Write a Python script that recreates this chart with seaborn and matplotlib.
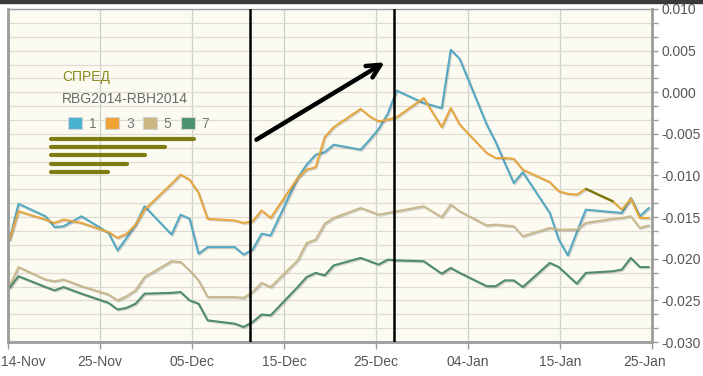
import numpy as np
import pandas as pd
import matplotlib
matplotlib.use("Agg")
import matplotlib.pyplot as plt
import matplotlib.dates as mdates
import matplotlib.patheffects as pe
from matplotlib.patches import Patch, Rectangle
from matplotlib.lines import Line2D
from matplotlib.ticker import MultipleLocator, FormatStrFormatter
from matplotlib.transforms import ScaledTranslation
import seaborn as sns

# trading days
dates = [
    "2013-11-14", "2013-11-15", "2013-11-18", "2013-11-19", "2013-11-20", "2013-11-22",
    "2013-11-25", "2013-11-26", "2013-11-27", "2013-11-28", "2013-11-29",
    "2013-12-02", "2013-12-03", "2013-12-04", "2013-12-05", "2013-12-06",
    "2013-12-09", "2013-12-10", "2013-12-11", "2013-12-12", "2013-12-13",
    "2013-12-16", "2013-12-17", "2013-12-18", "2013-12-19", "2013-12-20",
    "2013-12-23", "2013-12-24", "2013-12-25", "2013-12-26", "2013-12-27",
    "2013-12-30", "2014-01-01", "2014-01-02", "2014-01-03",
    "2014-01-06", "2014-01-07", "2014-01-08", "2014-01-09", "2014-01-10",
    "2014-01-13", "2014-01-14", "2014-01-15", "2014-01-16", "2014-01-17",
    "2014-01-20", "2014-01-21", "2014-01-22", "2014-01-23", "2014-01-24",
]

spread_1 = [
    -0.0177, -0.0134, -0.0149, -0.0162, -0.0161, -0.0149,
    -0.0169, -0.0190, -0.0175, -0.0159, -0.0137,
    -0.0171, -0.0147, -0.0152, -0.0194, -0.0186,
    -0.0186, -0.0195, -0.0189, -0.0170, -0.0172,
    -0.0103, -0.0087, -0.0075, -0.0072, -0.0063,
    -0.0069, -0.0057, -0.0044, -0.0026, 0.0002,
    -0.0013, -0.0019, 0.0051, 0.0040,
    -0.0039, -0.0060, -0.0085, -0.0109, -0.0096,
    -0.0145, -0.0177, -0.0196, -0.0168, -0.0141,
    -0.0144, -0.0145, -0.0127, -0.0149, -0.0139,
]
spread_3 = [
    -0.0177, -0.0143, -0.0153, -0.0157, -0.0153, -0.0157,
    -0.0168, -0.0175, -0.0170, -0.0159, -0.0141,
    -0.0110, -0.0099, -0.0105, -0.0121, -0.0152,
    -0.0154, -0.0157, -0.0155, -0.0142, -0.0151,
    -0.0103, -0.0093, -0.0090, -0.0054, -0.0042,
    -0.0020, -0.0029, -0.0035, -0.0033, -0.0030,
    -0.0007, -0.0042, -0.0019, -0.0039,
    -0.0073, -0.0079, -0.0079, -0.0080, -0.0093,
    -0.0108, -0.0119, -0.0122, -0.0123, -0.0116,
    -0.0131, -0.0141, -0.0128, -0.0151, -0.0151,
]
spread_5 = [
    -0.0233, -0.0210, -0.0225, -0.0227, -0.0225, -0.0233,
    -0.0243, -0.0250, -0.0245, -0.0238, -0.0222,
    -0.0203, -0.0204, -0.0214, -0.0226, -0.0246,
    -0.0246, -0.0247, -0.0240, -0.0229, -0.0234,
    -0.0202, -0.0181, -0.0177, -0.0158, -0.0151,
    -0.0139, -0.0143, -0.0147, -0.0145, -0.0143,
    -0.0137, -0.0150, -0.0135, -0.0143,
    -0.0160, -0.0159, -0.0160, -0.0161, -0.0173,
    -0.0163, -0.0165, -0.0165, -0.0165, -0.0157,
    -0.0152, -0.0151, -0.0149, -0.0163, -0.0160,
]
spread_7 = [
    -0.0235, -0.0221, -0.0234, -0.0238, -0.0234, -0.0242,
    -0.0253, -0.0261, -0.0259, -0.0254, -0.0242,
    -0.0241, -0.0240, -0.0250, -0.0254, -0.0274,
    -0.0278, -0.0282, -0.0276, -0.0267, -0.0268,
    -0.0234, -0.0222, -0.0217, -0.0220, -0.0208,
    -0.0199, -0.0203, -0.0207, -0.0201, -0.0202,
    -0.0203, -0.0218, -0.0211, -0.0217,
    -0.0233, -0.0233, -0.0226, -0.0226, -0.0234,
    -0.0205, -0.0210, -0.0220, -0.0230, -0.0217,
    -0.0215, -0.0213, -0.0199, -0.0210, -0.0210,
]

series_names = ["1", "3", "5", "7"]
line_colors = ["#55a9c3", "#e6a640", "#c9b98e", "#4f8b6d"]
legend_colors = ["#4ab2cf", "#f0a232", "#c9b680", "#4b9272"]
x_tick_labels = ["14-Nov", "25-Nov", "05-Dec", "15-Dec", "25-Dec", "04-Jan", "15-Jan", "25-Jan"]
marker_dates = ["2013-12-10 16:00", "2013-12-26 16:00"]
arrow_from = ("2013-12-11 10:00", -0.0057)
arrow_to = ("2013-12-25 16:00", 0.0036)
highlight_range = ("2014-01-17", "2014-01-20")

df = pd.DataFrame({"date": pd.to_datetime(dates), "1": spread_1, "3": spread_3,
                   "5": spread_5, "7": spread_7})
long_df = df.melt(id_vars="date", var_name="series", value_name="spread")

sns.set_theme(style="white")
plt.rcParams["font.family"] = ["Liberation Sans", "DejaVu Sans"]
plt.rcParams["axes.unicode_minus"] = False

W, H = 703, 376
fig = plt.figure(figsize=(W / 100, H / 100), dpi=100)
ax = fig.add_axes([8 / W, 1 - 342 / H, 644 / W, 333 / H])
ax.set_facecolor("#fcfbf2")

shadow = [pe.SimpleLineShadow(offset=(0.8, -0.8), alpha=0.18), pe.Normal()]
sns.lineplot(data=long_df, x="date", y="spread", hue="series", hue_order=series_names,
             palette=line_colors, linewidth=1.5, legend=False, ax=ax, path_effects=shadow)

# short olive stroke over the orange line
hl = long_df[(long_df.series == "3") & (long_df.date >= highlight_range[0])
             & (long_df.date <= highlight_range[1])]
ax.plot(hl.date, hl.spread, color="#7a7a10", lw=1.6, zorder=5)

start = pd.Timestamp(dates[0])
xmin = start - pd.Timedelta(hours=4)
xmax = start + pd.Timedelta(days=71.35)
ax.set_xlim(xmin, xmax)
ax.set_ylim(-0.030, 0.010)

ax.set_xticks(np.linspace(mdates.date2num(xmin), mdates.date2num(xmax), len(x_tick_labels)))
ax.set_xticklabels(x_tick_labels)
ax.yaxis.tick_right()
ax.yaxis.set_major_locator(MultipleLocator(0.005))
ax.yaxis.set_minor_locator(MultipleLocator(0.005 / 3))
ax.yaxis.set_major_formatter(FormatStrFormatter("%.3f"))
ax.set_xlabel("")
ax.set_ylabel("")

ax.grid(which="both", axis="y", color="#dddbd2", lw=0.9)
ax.grid(which="major", axis="x", color="#cfcfcb", lw=0.9)
ax.tick_params(axis="y", which="major", direction="out", length=4, width=1, color="#9a9a9a",
               labelsize=10, labelcolor="#555555", pad=3, right=True, left=False)
ax.tick_params(axis="y", which="minor", direction="out", length=4, width=1, color="#9a9a9a", right=True)
ax.tick_params(axis="x", direction="out", length=5, width=1, color="#9a9a9a",
               labelsize=10, labelcolor="#555555", pad=4, bottom=True)
for side, sp in ax.spines.items():
    sp.set_color("#9c9c9c")
    sp.set_linewidth(1.0 if side == "top" else 2.0)

# edge labels sit inside the plot width, as in the original
xlabels = ax.get_xticklabels()
xlabels[0].set_transform(xlabels[0].get_transform() + ScaledTranslation(0.15, 0, fig.dpi_scale_trans))
xlabels[-1].set_transform(xlabels[-1].get_transform() + ScaledTranslation(-0.07, 0, fig.dpi_scale_trans))

for d in marker_dates:
    ax.axvline(pd.Timestamp(d), color="black", lw=1.8, zorder=6)

ax.annotate("", xy=(pd.Timestamp(arrow_to[0]), arrow_to[1]),
            xytext=(pd.Timestamp(arrow_from[0]), arrow_from[1]),
            arrowprops=dict(arrowstyle="->,head_length=0.8,head_width=0.4",
                            lw=3.2, color="black", shrinkA=0, shrinkB=0), zorder=7)

# title block and legend
fig.text(62 / W, 1 - 77 / H, "СПРЕД", color="#8a8a1e", fontsize=10, va="center", ha="left")
fig.text(62 / W, 1 - 99 / H, "RBG2014-RBH2014", color="#6a6a6a", fontsize=10, va="center", ha="left")
handles = [Patch(facecolor=c, edgecolor="#d4d4d4", lw=0.8) for c in legend_colors]
fig.legend(handles, series_names, loc="center left", bbox_to_anchor=(61 / W, 1 - 124 / H),
           ncol=4, frameon=False, fontsize=10, labelcolor="#777777", borderpad=0,
           handlelength=1.0, handleheight=0.95, handletextpad=0.5, columnspacing=0.65)

bar_ends = [194, 165, 145, 127, 108]
bar_rows = [139, 147, 155, 164, 172]
for x_end, y in zip(bar_ends, bar_rows):
    fig.add_artist(Line2D([51 / W, x_end / W], [1 - y / H, 1 - y / H], color="#7d7d12",
                          lw=3.0, solid_capstyle="round", transform=fig.transFigure))

fig.add_artist(Rectangle((0, 1 - 3 / H), 1, 3 / H, color="#3a3a3a", transform=fig.transFigure))

fig.savefig("out.png", dpi=100)
